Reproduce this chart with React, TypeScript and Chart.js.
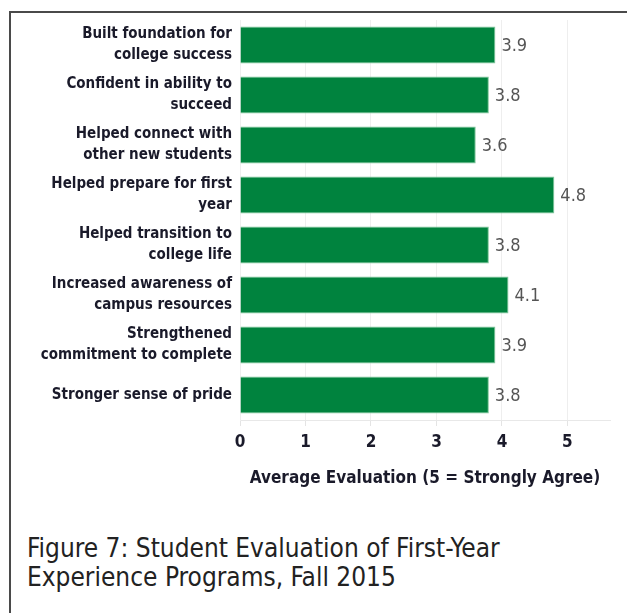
import React, { useEffect, useRef } from "react";
import { Chart, registerables } from "chart.js";

Chart.register(...registerables);

const categories: string[][] = [
  ["Built foundation for", "college success"],
  ["Confident in ability to", "succeed"],
  ["Helped connect with", "other new students"],
  ["Helped prepare for first", "year"],
  ["Helped transition to", "college life"],
  ["Increased awareness of", "campus resources"],
  ["Strengthened", "commitment to complete"],
  ["Stronger sense of pride"],
];
const values: number[] = [3.9, 3.8, 3.6, 4.8, 3.8, 4.1, 3.9, 3.8];
const xTicks: number[] = [0, 1, 2, 3, 4, 5];
const xTitle = "Average Evaluation (5 = Strongly Agree)";
const caption = ["Figure 7: Student Evaluation of First-Year", "Experience Programs, Fall 2015"];

const FONT = "'DejaVu Sans Condensed', 'Liberation Sans Narrow', sans-serif";

const valueLabels = {
  id: "valueLabels",
  afterDatasetsDraw(chart: any) {
    const { ctx } = chart;
    const meta = chart.getDatasetMeta(0);
    ctx.save();
    ctx.font = `normal 18px ${FONT}`;
    ctx.fillStyle = "#555555";
    ctx.textAlign = "left";
    ctx.textBaseline = "middle";
    meta.data.forEach((bar: any, i: number) => {
      ctx.fillText(values[i].toFixed(1), bar.x + 6, bar.y + 1);
    });
    ctx.restore();
  },
};

export default function App() {
  const ref = useRef<HTMLCanvasElement>(null);
  useEffect(() => {
    if (!ref.current) return;
    const chart = new Chart(ref.current, {
      type: "bar",
      data: {
        labels: categories,
        datasets: [
          {
            data: values,
            backgroundColor: "#00833e",
            borderColor: "#7fc79a",
            borderWidth: 1,
            barPercentage: 0.74,
            categoryPercentage: 1,
          },
        ],
      },
      options: {
        indexAxis: "y",
        animation: false,
        responsive: false,
        maintainAspectRatio: false,
        layout: { padding: { top: 20, right: 17, bottom: 8, left: 0 } },
        plugins: { legend: { display: false }, tooltip: { enabled: false } },
        scales: {
          x: {
            min: 0,
            max: 5.65,
            afterBuildTicks: (scale: any) => {
              scale.ticks = xTicks.map((v) => ({ value: v }));
            },
            afterFit: (scale: any) => {
              scale.height = 72;
            },
            grid: { color: "#eeeeee", tickLength: 6, drawTicks: true, tickColor: "#e4e4e4" },
            border: { color: "#e8e8e8" },
            ticks: {
              color: "#1a1a2a",
              font: { family: FONT, size: 17, weight: "bold" },
              padding: 6,
              callback: (v: any) => String(v),
            },
            title: {
              display: true,
              text: xTitle,
              color: "#1a1a2a",
              font: { family: FONT, size: 17, weight: "bold" },
              padding: { top: 0, bottom: 3 },
            },
          },
          y: {
            afterFit: (scale: any) => {
              scale.width = 240;
            },
            grid: { display: false, drawTicks: false },
            border: { color: "#eeeeee" },
            ticks: {
              color: "#1a1a2a",
              font: { family: FONT, size: 15, weight: "bold", lineHeight: 1.4 },
              padding: 8,
            },
          },
        },
      },
      plugins: [valueLabels],
    });
    return () => chart.destroy();
  }, []);

  return (
    <div style={{ position: "absolute", left: 0, top: 0, width: 627, height: 613, background: "#fff", overflow: "hidden" }}>
      <canvas ref={ref} width={627} height={500} style={{ position: "absolute", left: 0, top: 0 }} />
      <div style={{ position: "absolute", left: 9, top: 11, width: 640, height: 2, background: "#4a4a4a" }} />
      <div style={{ position: "absolute", left: 9, top: 11, width: 2, height: 620, background: "#4a4a4a" }} />
      <div
        style={{
          position: "absolute",
          left: 27,
          top: 534,
          fontFamily: FONT,
          fontSize: 26,
          lineHeight: "29px",
          color: "#222",
          whiteSpace: "nowrap",
        }}
      >
        {caption.map((c, i) => (
          <div key={i}>{c}</div>
        ))}
      </div>
    </div>
  );
}
